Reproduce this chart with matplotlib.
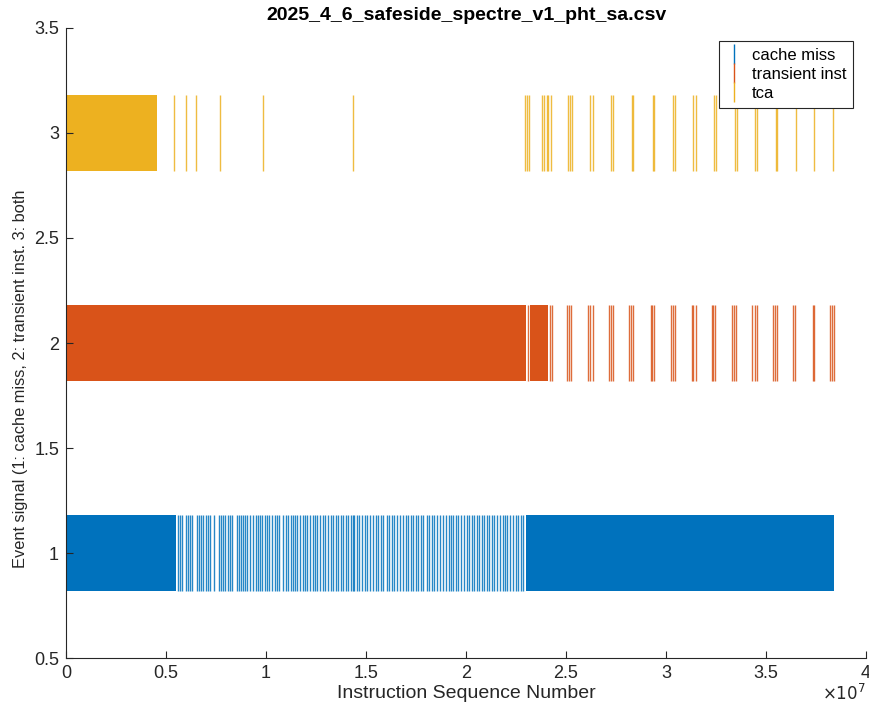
import matplotlib
matplotlib.use("Agg")
import matplotlib.pyplot as plt
from matplotlib.lines import Line2D

plt.rcParams['font.family'] = ['Liberation Sans', 'DejaVu Sans']

# Event positions, in millions of instructions
cache_miss_blocks = [(0.0, 5.50), (23.0, 38.4)]
cache_miss_events = [
    5.58, 5.70, 5.80, 6.00, 6.12, 6.20, 6.32, 6.53, 6.63, 6.73, 6.87, 6.98,
    7.08, 7.20, 7.40, 7.67, 7.77, 7.87, 7.97, 8.10, 8.20, 8.30, 8.53, 8.63,
    8.75, 8.87, 8.97, 9.07, 9.20, 9.37, 9.48, 9.58, 9.70, 9.82, 9.93, 10.05,
    10.17, 10.32, 10.43, 10.53, 10.65, 10.87, 11.00, 11.12, 11.23, 11.33,
    11.45, 11.57, 11.70, 11.83, 11.97, 12.07, 12.20, 12.33, 12.47, 12.57,
    12.70, 12.83, 12.95, 13.12, 13.23, 13.37, 13.50, 13.62, 13.73, 13.87,
    14.00, 14.12, 14.23, 14.33, 14.40, 14.53, 14.67, 14.80, 14.95, 15.07,
    15.20, 15.37, 15.50, 15.62, 15.73, 15.87, 16.03, 16.17, 16.28, 16.42,
    16.57, 16.70, 16.83, 17.00, 17.12, 17.23, 17.37, 17.50, 17.62, 17.75,
    17.87, 18.03, 18.17, 18.28, 18.40, 18.53, 18.70, 18.83, 19.00, 19.13,
    19.25, 19.37, 19.50, 19.62, 19.75, 19.90, 20.03, 20.17, 20.28, 20.40,
    20.53, 20.67, 20.78, 20.90, 21.03, 21.17, 21.28, 21.42, 21.53, 21.70,
    21.83, 21.95, 22.07, 22.20, 22.37, 22.50, 22.62, 22.73, 22.83,
]

transient_blocks = [(0.0, 23.0), (23.2, 24.1)]
transient_events = [
    23.08, 24.2, 24.3, 25.07, 25.15, 25.23, 26.12, 26.20, 26.37, 27.15, 27.25,
    27.35, 28.17, 28.25, 28.37, 29.23, 29.30, 29.40, 30.23, 30.33, 30.45,
    31.28, 31.37, 31.48, 32.28, 32.37, 32.45, 33.28, 33.40, 33.50, 34.32,
    34.45, 34.53, 35.37, 35.47, 35.57, 36.37, 36.45, 37.33, 37.40, 38.20,
    38.32, 38.40,
]

tca_blocks = [(0.0, 4.53)]
tca_events = [
    5.40, 6.00, 6.52, 7.68, 9.87, 14.33, 22.95, 23.03, 23.17, 23.78, 23.90,
    24.03, 24.12, 24.25, 25.12, 25.20, 25.30, 26.22, 26.33, 27.23, 27.37,
    28.28, 28.37, 29.33, 29.42, 30.33, 30.45, 31.37, 31.48, 32.40, 32.50,
    33.45, 33.53, 34.47, 34.53, 35.50, 35.57, 36.48, 37.42, 38.33,
]

series_names = ['cache miss', 'transient inst', 'tca']
series_levels = [1, 2, 3]
series_colors = ['#0072BD', '#D95319', '#EDB120']

x_ticks = [0, 0.5, 1, 1.5, 2, 2.5, 3, 3.5, 4]
y_ticks = [0.5, 1, 1.5, 2, 2.5, 3, 3.5]

SCALE = 1e6
HALF = 0.18

fig = plt.figure(figsize=(8.69, 7.07), dpi=100)
ax = fig.add_axes([0.076, 0.0693, 0.9205, 0.8911])

blocks = [cache_miss_blocks, transient_blocks, tca_blocks]
events = [cache_miss_events, transient_events, tca_events]
for level, color, blk, ev in zip(series_levels, series_colors, blocks, events):
    ranges = [(a * SCALE, (b - a) * SCALE) for a, b in blk]
    ax.broken_barh(ranges, (level - HALF, 2 * HALF), facecolors=color,
                   edgecolor='none')
    ax.vlines([v * SCALE for v in ev], level - HALF, level + HALF,
              colors=color, linewidth=1.0, alpha=0.85)

ax.set_xlim(0, 4e7)
ax.set_ylim(0.5, 3.5)
ax.set_xticks([t * 1e7 for t in x_ticks])
ax.set_xticklabels([f'{t:g}' for t in x_ticks])
ax.set_yticks(y_ticks)
ax.set_yticklabels([f'{t:g}' for t in y_ticks])

tick_color = '#262626'
for side in ['top', 'right']:
    ax.spines[side].set_visible(False)
for side in ['left', 'bottom']:
    ax.spines[side].set_color(tick_color)
    ax.spines[side].set_linewidth(0.8)
ax.tick_params(direction='in', length=5, width=0.8, colors=tick_color,
               labelsize=13, pad=5)

ax.set_xlabel('Instruction Sequence Number', fontsize=14, color=tick_color,
              labelpad=2)
ax.set_ylabel('Event signal (1: cache miss, 2: transient inst. 3: both',
              fontsize=11.8, color=tick_color)
ax.yaxis.set_label_coords(-0.048, 0.443)
ax.set_title('2025_4_6_safeside_spectre_v1_pht_sa.csv', fontsize=14,
             fontweight='bold', color='black', pad=6)
ax.text(1.0, -0.04, r'$\times10^{7}$', transform=ax.transAxes, ha='right',
        va='top', fontsize=12, color=tick_color)

handles = [Line2D([], [], color=c, marker='|', linestyle='none',
                  markersize=14, markeredgewidth=1.0) for c in series_colors]
leg = ax.legend(handles, series_names, loc='upper right',
                bbox_to_anchor=(0.984, 0.979), borderaxespad=0,
                fontsize=12, fancybox=False, framealpha=1,
                handlelength=1.0, handletextpad=0.6, labelspacing=0.25,
                borderpad=0.4)
leg.get_frame().set_edgecolor(tick_color)
leg.get_frame().set_linewidth(0.8)

fig.savefig('out.png', dpi=100)
